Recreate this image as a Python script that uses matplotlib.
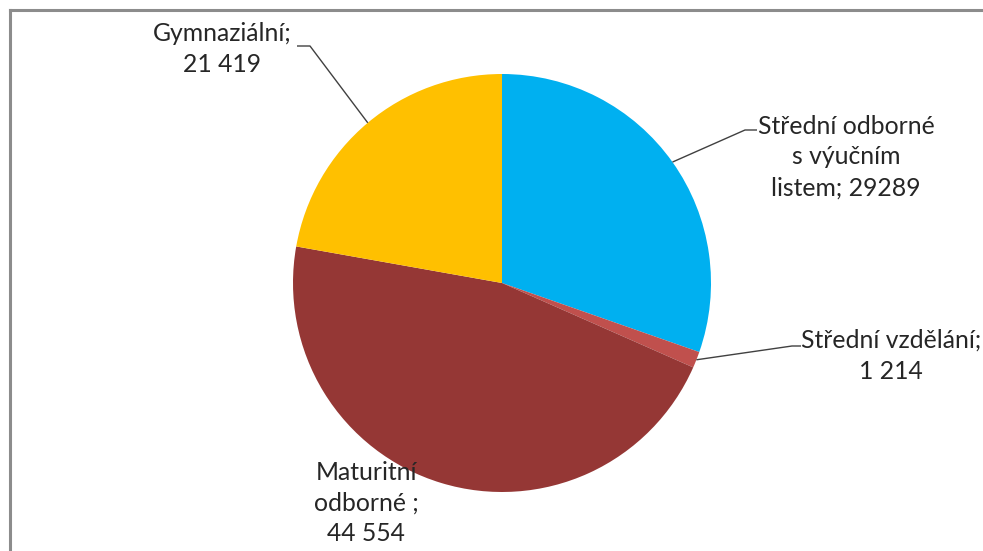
import matplotlib
matplotlib.use("Agg")
import matplotlib.pyplot as plt
import numpy as np

categories = ["Střední odborné\ns výučním\nlistem; 29289", "Střední vzdělání;\n1 214", "Maturitní\nodborné ;\n44 554", "Gymnaziální;\n21 419"]
values = [29289, 1214, 44554, 21419]
colors = ["#00B0F0", "#C0504D", "#953735", "#FFC000"]

W, H = 983, 551
fig = plt.figure(figsize=(W / 100, H / 100), dpi=100)
ax = fig.add_axes([0, 0, 1, 1])

cx, cy, R = 502, H - 283, 209
wedges, _ = ax.pie(values, colors=colors, startangle=90, counterclock=False,
                   center=(cx, cy), radius=R, frame=True,
                   wedgeprops=dict(linewidth=0))
ax.set_xlim(0, W)
ax.set_ylim(0, H)
ax.set_aspect("equal")
ax.axis("off")

font = ["Lato", "DejaVu Sans"]
fs = 17.8
tc = "#262626"

# label placement (pixel coords, y from top), leader elbows
label_pos = [(846, 157), (891, 356), (366, 503), (222, 49)]
elbows = [[(745, 130), (757, 130)], [(792, 346), (801, 346)], None, [(310, 46), (297, 46)]]

for w, lab, (lx, ly), el in zip(wedges, categories, label_pos, elbows):
    ax.text(lx, H - ly, lab, ha="center", va="center", fontsize=fs, family=font,
            color=tc, linespacing=1.42)
    if el is not None:
        mid = np.deg2rad((w.theta1 + w.theta2) / 2)
        px, py = cx + R * np.cos(mid), cy + R * np.sin(mid)
        xs = [px] + [e[0] for e in el]
        ys = [py] + [H - e[1] for e in el]
        ax.plot(xs, ys, color="#404040", lw=1.0, solid_capstyle="butt")

# chart border (top and left visible)
ax.plot([10, W + 5], [H - 10, H - 10], color="#8c8c8c", lw=2.2, clip_on=False)
ax.plot([10, 10], [H - 10, -5], color="#8c8c8c", lw=2.2, clip_on=False)

fig.savefig("out.png", dpi=100)
